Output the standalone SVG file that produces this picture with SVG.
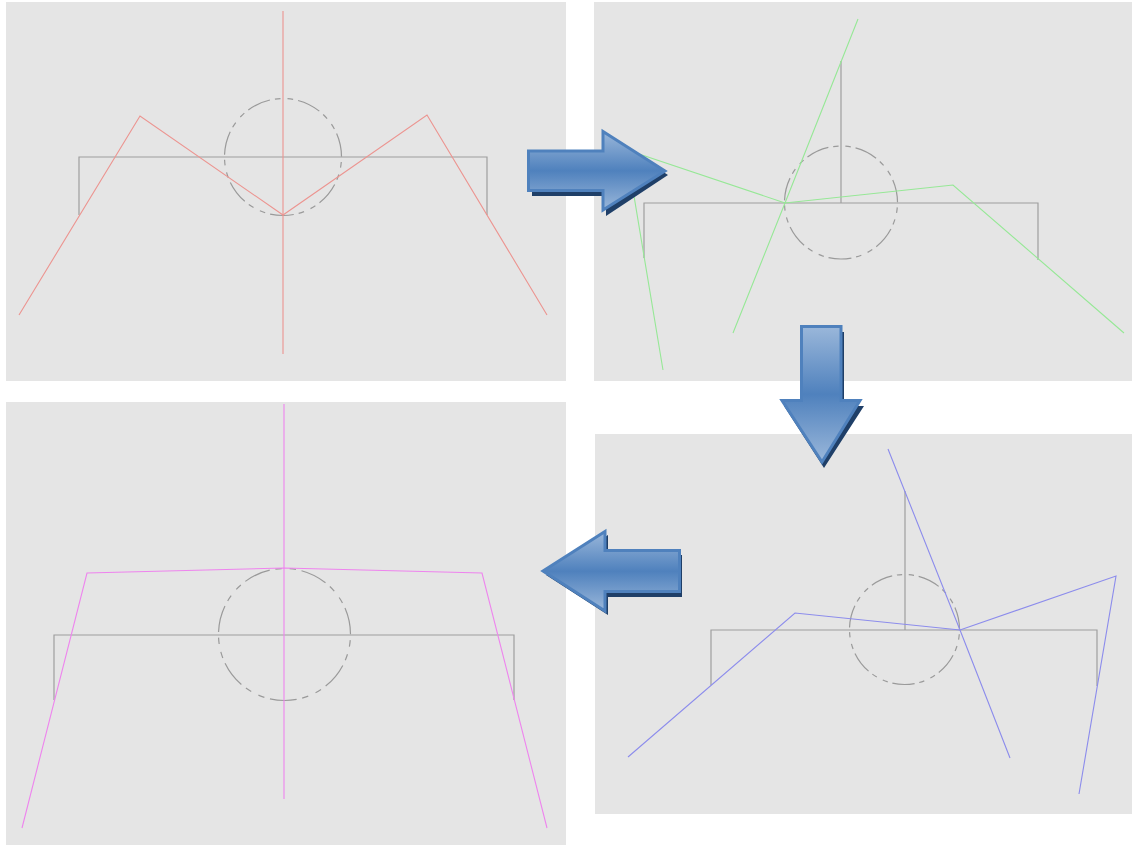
<svg xmlns="http://www.w3.org/2000/svg" width="1132" height="845" viewBox="0 0 1132 845">
<style>
.panel{fill:#e5e5e5;stroke:none}
.frame{fill:none;stroke:#9e9e9e;stroke-width:1.2}
.circ{fill:none;stroke:#9a9a9a;stroke-width:1.2;stroke-dasharray:23.4 5 5.5 7 5.5 5;stroke-dashoffset:23.4}
.red{fill:none;stroke:#ec9490;stroke-width:1.1}
.green{fill:none;stroke:#96e896;stroke-width:1.1}
.blue{fill:none;stroke:#8c8cec;stroke-width:1.1}
.pink{fill:none;stroke:#ee84ee;stroke-width:1.1}
.arrow{fill:url(#g);stroke:#4f81bd;stroke-width:3}
.shadow{fill:#1f3f68}
</style>
<defs>
<linearGradient id="g" x1="0" y1="0" x2="0" y2="1">
<stop offset="0" stop-color="#9ab7da"/>
<stop offset="0.5" stop-color="#4f81bd"/>
<stop offset="1" stop-color="#9ab7da"/>
</linearGradient>
</defs>
<g id="panel-1">
<rect class="panel" x="6" y="2" width="560" height="379"/>
<path class="frame" d="M79 215V157H487V215"/>
<circle class="circ" cx="283" cy="157" r="58.500" pathLength="360"/>
<path class="red" d="M283 11V354"/>
<path class="red" d="M19 315L140 116L283 215L427 115L547 315"/>
</g>
<g id="panel-2">
<rect class="panel" x="594" y="2" width="538" height="379"/>
<path class="frame" d="M644 258V203H1038V260M841 203V61"/>
<circle class="circ" cx="841" cy="202.500" r="56.500" pathLength="360"/>
<path class="green" d="M858 19L785 203L733 333"/>
<path class="green" d="M663 370L633 190L636 153L785 203L953 185L1124 333"/>
</g>
<g id="panel-3">
<rect class="panel" x="595" y="434" width="537" height="380"/>
<path class="frame" d="M711 685V630H1097V686M905 630V491"/>
<circle class="circ" cx="904.500" cy="629.500" r="55" pathLength="360"/>
<path class="blue" d="M888 449L960 630L1010 758"/>
<path class="blue" d="M628 757L795 613L960 630L1116 576L1079 794"/>
</g>
<g id="panel-4">
<rect class="panel" x="6" y="402" width="560" height="443"/>
<path class="frame" d="M54 700V635H514V700"/>
<circle class="circ" cx="284.500" cy="634.500" r="66" pathLength="360"/>
<path class="pink" d="M284 404V799"/>
<path class="pink" d="M22 828L87 573L284 568L482 573L547 828"/>
</g>
<g id="connectors">
<g id="arrow-right">
<path class="shadow" d="M532 155H606V135L668 175L606 216V196H532Z"/>
<path class="arrow" d="M528.500 151H603V131.500L665 171L603 210V190.500H528.500Z"/>
</g>
<g id="arrow-down">
<path class="shadow" d="M804 332H844V406H864L824 468L784 406H804Z"/>
<path class="arrow" d="M801.500 326.500H841V400.500H860L822 462L782 400.500H801.500Z"/>
</g>
<g id="arrow-left">
<path class="shadow" d="M546 575L608 535V555H682V597H608V615Z"/>
<path class="arrow" d="M543 571L605 531.500V550.500H679.500V591.500H605V611Z"/>
</g>
</g>
</svg>
